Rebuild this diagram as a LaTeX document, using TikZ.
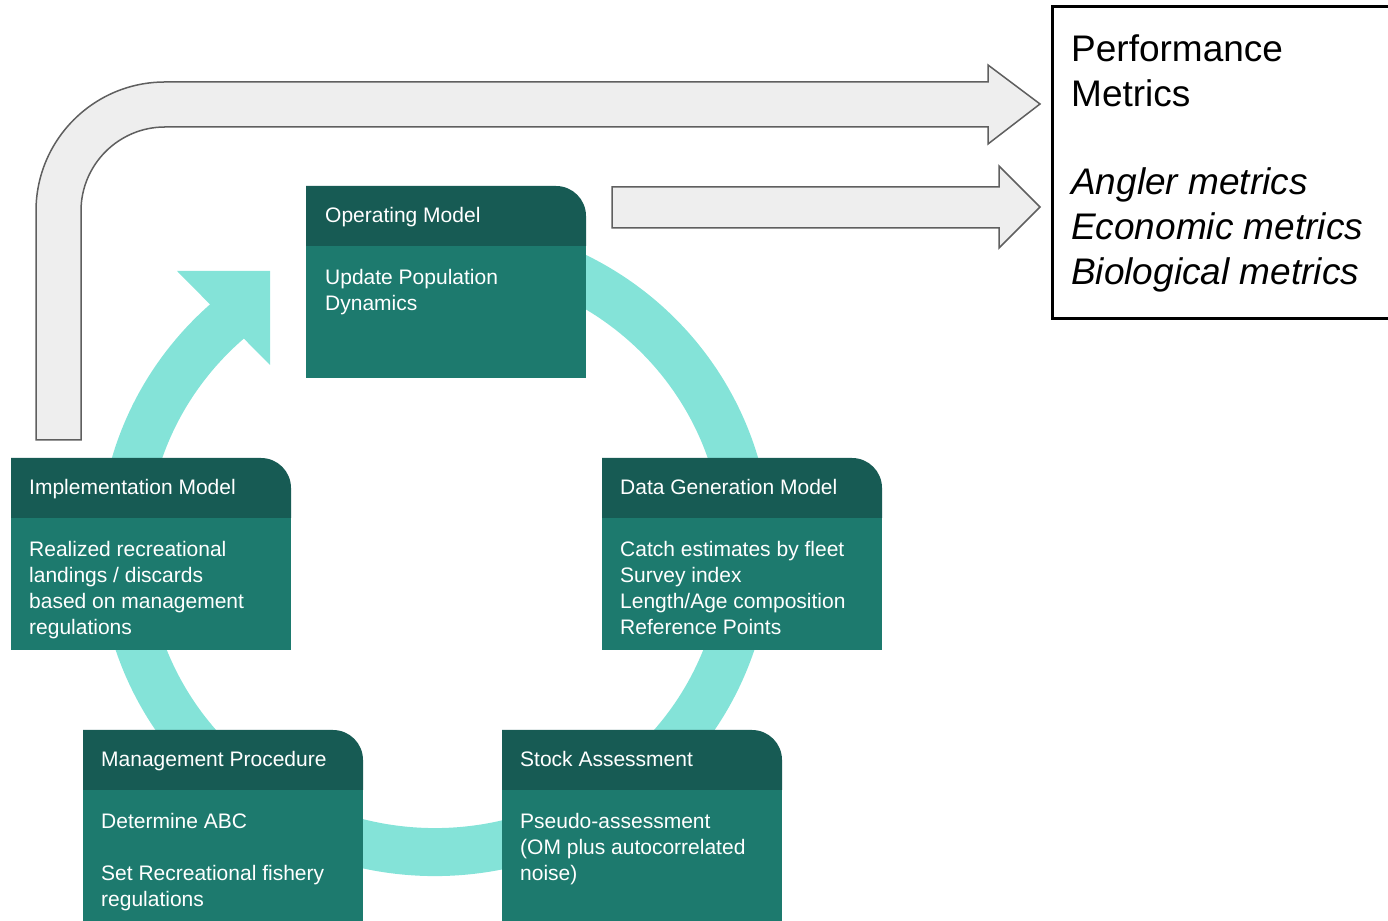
\documentclass[tikz,border=0pt]{standalone}
\usepackage{fontspec}
\setmainfont{Liberation Sans}
\usepackage{tikz}
\usetikzlibrary{calc}

\definecolor{hdrgreen}{HTML}{175B54}
\definecolor{bodygreen}{HTML}{1D7A6E}
\definecolor{ringteal}{HTML}{84E3D8}
\definecolor{arrowgray}{HTML}{EEEEEE}
\definecolor{edgegray}{HTML}{5F5F5F}

\tikzset{
  boxtitle/.style={anchor=base west, text=white, inner sep=0pt, font=\fontsize{21}{26}\selectfont},
  boxbody/.style={boxtitle, anchor=north west, align=left},
  bigarrow/.style={fill=arrowgray, draw=edgegray, line width=1.5pt},
}

\begin{document}
\begin{tikzpicture}[x=1pt, y=1pt]
\useasboundingbox (0,0) rectangle (1388,920);

% big bent arrow
\draw[bigarrow] (36,480) -- (36,709) arc[start angle=180, end angle=90, radius=129pt]
  -- (988,838) -- (988,855) -- (1040,816) -- (988,776) -- (988,793) -- (165,793)
  arc[start angle=90, end angle=180, radius=84pt] -- (81,480) -- cycle;

% short arrow
\draw[bigarrow] (612,733) -- (999,733) -- (999,754) -- (1040,713) -- (999,672)
  -- (999,692) -- (612,692) -- cycle;

% cycle ring
\coordinate (c) at (435, 372);
\draw[ringteal, line width=48pt] (c) ++(70:312pt and 304pt)
  arc[start angle=70, end angle=-228.5, x radius=312pt, y radius=304pt];
\fill[ringteal] (177,649) -- (270,649) -- (270,555) -- cycle;

% boxes (top left corners)
\coordinate (om) at (306, 734);
\coordinate (im) at (11, 462);
\coordinate (dg) at (602, 462);
\coordinate (mp) at (83, 190);
\coordinate (sa) at (502, 190);

\foreach \i/\h in {om/132, im/132, dg/132, mp/140, sa/140} {
  \fill[bodygreen] ($(\i)+(0,-60)$) rectangle ++(280,-\h);
  \fill[hdrgreen] (\i) -- ++(250,0) arc[start angle=90, end angle=0, radius=30pt]
    -- ++(0,-30) -- ++(-280,0) -- cycle;
}

% titles
\node[boxtitle] (omtitle) at ($(om)+(19,-37)$) {Operating Model};
\node[boxtitle] (imtitle) at ($(im)+(18,-37)$) {Implementation Model};
\node[boxtitle] (dgtitle) at ($(dg)+(18,-37)$) {Data Generation Model};
\node[boxtitle] (mptitle) at ($(mp)+(18,-37)$) {Management Procedure};
\node[boxtitle] (satitle) at ($(sa)+(18,-37)$) {Stock Assessment};

% contents
\node[boxbody] (omtext) at ($(om)+(19,-83)$) {Update Population\\Dynamics};
\node[boxbody] (imtext) at ($(im)+(18,-83)$) {Realized recreational\\landings / discards\\based on management\\regulations};
\node[boxbody] (dgtext) at ($(dg)+(18,-83)$) {Catch estimates by fleet\\Survey index\\Length/Age composition\\Reference Points};
\node[boxbody] (mptext) at ($(mp)+(18,-83)$) {Determine ABC\\[26pt]Set Recreational fishery\\regulations};
\node[boxbody] (satext) at ($(sa)+(18,-83)$) {Pseudo-assessment\\(OM plus autocorrelated\\noise)};

% performance metrics
\draw[line width=3pt] (1052,913) rectangle (1400,601);
\node[anchor=north west, inner sep=0pt, align=left, font=\fontsize{37}{45}\selectfont] (metrics) at (1071,885)
  {Performance\\Metrics\\[43pt]\textit{Angler metrics}\\\textit{Economic metrics}\\\textit{Biological metrics}};
\end{tikzpicture}
\end{document}
